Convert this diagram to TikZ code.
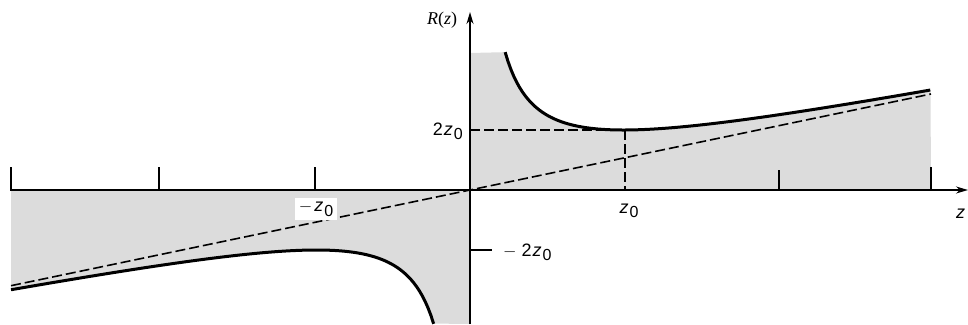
\documentclass[tikz,border=0pt]{standalone}
\usepackage{fontspec}
\setmainfont{Liberation Sans}
\newfontfamily\rfont{Liberation Serif}
\usetikzlibrary{arrows.meta}
\definecolor{areagray}{RGB}{220,220,220}
\tikzset{
  axis/.style={line width=1.6pt,-{Stealth[length=12pt,width=7pt]}},
  tickline/.style={line width=1.4pt},
  curve/.style={line width=3pt},
  dashline/.style={line width=1.6pt,dash pattern=on 10pt off 4pt},
  lab/.style={font=\fontsize{18}{18}\selectfont,inner sep=1pt},
}
\newcommand{\zz}{\textit{z}\kern1pt\raisebox{-0.45ex}{\fontsize{16}{16}\selectfont 0}}
\begin{document}
\begin{tikzpicture}[x=1pt,y=-1pt]
\useasboundingbox (0,0) rectangle (968,324);
% shaded regions
\fill[areagray] (470,190) -- (931,190) -- plot[domain=3.0:0.229,samples=120] ({470+153.5*\x},{190-30*(\x+1/\x)}) -- (470,53) -- cycle;
\fill[areagray] (470,190) -- (11,190) -- plot[domain=-2.99:-0.236,samples=120] ({470+153.5*\x},{190-30*(\x+1/\x)}) -- (470,324) -- cycle;
% coordinates
\coordinate (O) at (470,190);
\coordinate (xs) at (10,190);
\coordinate (xe) at (968,190);
\coordinate (ys) at (470,324);
\coordinate (ye) at (470,12);
\coordinate (aL) at (11,{190+32*2.99});
\coordinate (aR) at (931,{190-32*3.0});
\coordinate (m) at (625,130);
\coordinate (mx) at (625,190);
\coordinate (my) at (470,130);
% asymptote and dashed guides
\draw[dashline] (aL) -- (O) -- (aR);
\draw[dashline] (my) -- (m);
\draw[dashline] (m) -- (mx);
% curves
\draw[curve] plot[domain=0.229:3.0,samples=150] ({470+153.5*\x},{190-30*(\x+1/\x)});
\draw[curve] plot[domain=-2.99:-0.236,samples=150] ({470+153.5*\x},{190-30*(\x+1/\x)});
% axes
\draw[axis] (xs) -- (xe);
\draw[axis] (ys) -- (ye);
% ticks
\foreach \t/\h in {11/167,159/167,315/167,779/170,931/167}
  \draw[tickline] (\t,190) -- (\t,\h);
\draw[tickline] (470,250) -- (492,250);
% labels
\node[lab,font=\rfont\fontsize{18}{18}\selectfont] (R) at (442,20) {\textit{R}(\textit{z})};
\node[lab,anchor=east] (l2) at (464,131) {2\kern1pt\zz};
\node[lab,anchor=west] (lm2) at (502,252) {$-$\kern5pt2\kern1pt\zz};
\node[lab,fill=white,inner sep=4pt] (lm1) at (316,209) {$-$\kern2pt\zz};
\node[lab] (l1) at (629,211) {\zz};
\node[lab,anchor=west] (lz) at (955,214) {\textit{z}};
\end{tikzpicture}
\end{document}
